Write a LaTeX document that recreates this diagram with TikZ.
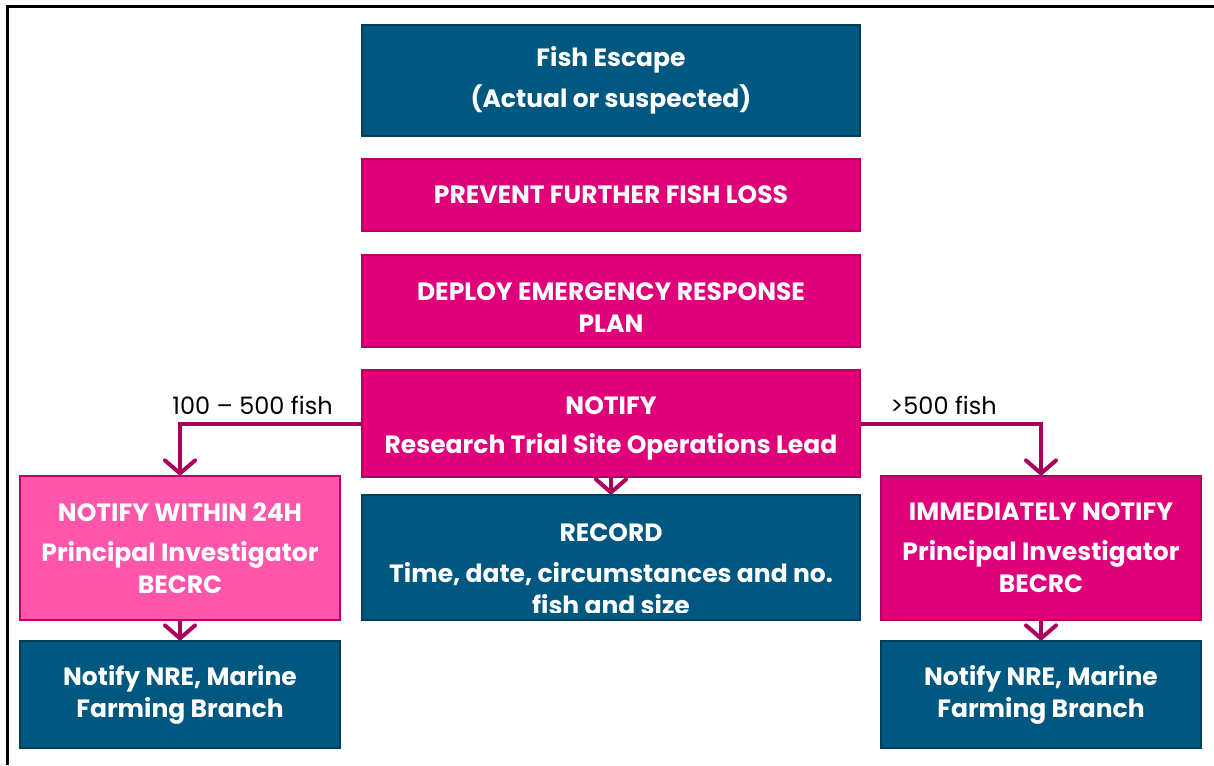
\documentclass[tikz,border=0pt]{standalone}
\usepackage{fontspec}
\setmainfont{Poppins}
\usetikzlibrary{positioning, arrows.meta}

\definecolor{fishblue}{RGB}{0,88,128}
\definecolor{fishmagenta}{RGB}{224,0,122}
\definecolor{fishpink}{RGB}{255,85,170}
\definecolor{arrowplum}{RGB}{170,0,92}

\tikzset{
  box/.style={rectangle, draw, line width=1.2pt, text=white, align=center,
    inner sep=0pt, font=\fontsize{25}{32}\selectfont\bfseries},
  bluebox/.style={box, fill=fishblue, draw=fishblue!70!black},
  magbox/.style={box, fill=fishmagenta, draw=fishmagenta!80!black},
  pinkbox/.style={box, fill=fishpink, draw=fishmagenta!85!black},
  flow/.style={draw=arrowplum, line width=4pt,
    -{Straight Barb[length=13pt, width=30pt, round]}},
  count/.style={font=\fontsize{24}{30}\selectfont, text=black}
}

\begin{document}
\begin{tikzpicture}[x=1pt, y=-1pt]
                    \useasboundingbox (0,0) rectangle (1214,765);
                    \draw[line width=3pt] (7,765) -- (7,7) -- (1214,7);

                    % Nodes
                    \node[bluebox, minimum width=498pt, minimum height=111pt] (escape) at (611, 80.5) {Fish Escape\\[9pt](Actual or suspected)};
                    \node[magbox, minimum width=498pt, minimum height=72pt] (prevent) at (611, 195) {PREVENT FURTHER FISH LOSS};
                    \node[magbox, minimum width=498pt, minimum height=92pt] (deploy) at (611, 301) {\rule{0pt}{30pt}DEPLOY EMERGENCY RESPONSE\\PLAN};
                    \node[magbox, minimum width=498pt, minimum height=107pt] (notify) at (611, 423.5) {\rule{0pt}{28pt}NOTIFY\\[7pt]Research Trial Site Operations Lead};
                    \node[bluebox, minimum width=498pt, minimum height=125pt] (record) at (611, 557.5) {};
                    \node[pinkbox, minimum width=320pt, minimum height=144pt] (within) at (180, 548) {NOTIFY WITHIN 24H\\[8pt]Principal Investigator\\BECRC};
                    \node[bluebox, minimum width=320pt, minimum height=107pt] (nreleft) at (180, 694.5) {Notify NRE, Marine\\Farming Branch};
                    \node[magbox, minimum width=320pt, minimum height=144pt] (immediate) at (1041, 548) {IMMEDIATELY NOTIFY\\[8pt]Principal Investigator\\BECRC};
                    \node[bluebox, minimum width=320pt, minimum height=107pt] (nreright) at (1041, 694.5) {Notify NRE, Marine\\Farming Branch};

                    % record text runs past the box
                    \begin{scope}
                    \clip (record.north west) rectangle ([yshift=8pt]record.south east);
                    \node[box, draw=none] (recordtext) at (611, 569) {RECORD\\[9pt]Time, date, circumstances and no.\\fish and size};
                    \end{scope}

                    % Edges
                    % notify to within 24h
                    \draw[flow] (notify.west) -| node [pos=0.3, above, yshift=3pt, count] {100 – 500 fish} (within.north);

                    % notify to immediately
                    \draw[flow] (notify.east) -| node [pos=0.23, above, yshift=3pt, count] {>500 fish} (immediate.north);

                    % notify to record
                    \draw[flow] (notify) -- (record);

                    % down to NRE
                    \draw[flow] (within) -- (nreleft);
                    \draw[flow] (immediate) -- (nreright);
                \end{tikzpicture}
\end{document}
